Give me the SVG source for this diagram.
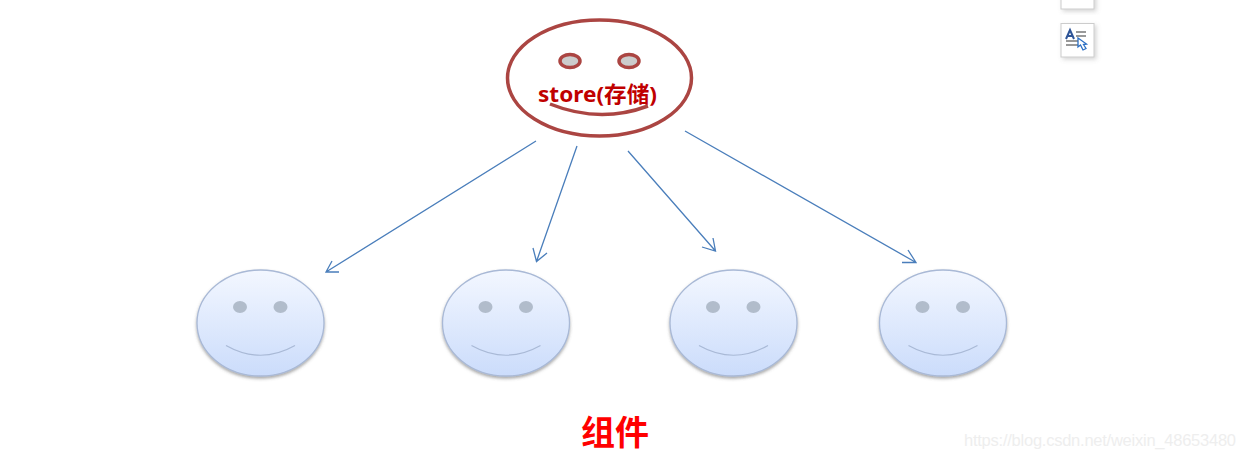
<svg xmlns="http://www.w3.org/2000/svg" width="1245" height="458" viewBox="0 0 1245 458">
<style>
.c{fill:none;stroke:#4a7ebb;stroke-width:1.3}
.f{fill:url(#g);stroke:#a9b9d6;stroke-width:1.3;filter:url(#s)}
.e{fill:#b1bccb}
.m{fill:none;stroke:#a9b9d6;stroke-width:1.2}
.r{stroke:#ab4542;stroke-width:3.5}
.t{font-family:"Noto Sans","Noto Sans CJK SC",sans-serif;font-weight:700}
</style>
<defs>
<linearGradient id="g" x1="0" y1="0" x2="0" y2="1"><stop offset="0" stop-color="#f3f7ff"/><stop offset="1" stop-color="#cbdcfb"/></linearGradient>
<filter id="s" x="-10%" y="-10%" width="120%" height="125%"><feDropShadow dx="0" dy="2" stdDeviation="1.5" flood-color="#555" flood-opacity=".5"/></filter>
<filter id="b" x="-20%" y="-20%" width="150%" height="150%"><feDropShadow dx="2" dy="2" stdDeviation="2" flood-color="#777" flood-opacity=".3"/></filter>
<g id="face"><ellipse class="f" cx="0" cy="0" rx="63.500" ry="53"/><ellipse class="e" cx="-20.500" cy="-16" rx="7" ry="6"/><ellipse class="e" cx="20" cy="-16" rx="7" ry="6"/><path class="m" d="M-34.500 22.500Q0 42 34.500 22.500"/></g>
</defs>
<rect width="1245" height="458" fill="#fff"/>
<g id="toolbar">
<rect x="1061" y="-10" width="33" height="19" fill="#fff" stroke="#ccc" filter="url(#b)"/>
<rect x="1061" y="23.500" width="33" height="33.500" fill="#fff" stroke="#ccc" filter="url(#b)"/>
<path d="M1066 39L1070 30L1074 39M1067.500 36H1072.500" fill="none" stroke="#2f5597" stroke-width="2"/>
<path d="M1076 32H1086M1076 36H1086M1066 41H1080M1066 45H1080" stroke="#999" stroke-width="2"/>
<path d="M1078 38L1078 47L1080.500 45L1083 50L1086 48.500L1083.500 44.500L1086.500 44Z" fill="#fff" stroke="#2b6fc4" stroke-width="1.300"/>
</g>
<g id="store">
<ellipse class="r" cx="599.500" cy="78" rx="92" ry="58" fill="#fff"/>
<ellipse class="r" cx="570" cy="61" rx="10" ry="6.500" fill="#ccc"/>
<ellipse class="r" cx="629" cy="61" rx="10" ry="6.500" fill="#ccc"/>
<path d="M550 104Q600 124 648 106" fill="none" stroke="#ab4542" stroke-width="3.500"/>
<text class="t" x="538" y="102" font-size="22" fill="#c00000" textLength="119" lengthAdjust="spacingAndGlyphs">store(存储)</text>
</g>
<g id="connectors">
<path class="c" d="M536 141L326 272M339 272L326 272L332 261"/>
<path class="c" d="M577 146L536.500 261.500M533 248L536.500 261.500L547 253"/>
<path class="c" d="M628 151L715.500 251M702 247L715.500 251L713 238"/>
<path class="c" d="M685 131L916 262.500M902 262.500L916 262.500L908 250"/>
</g>
<use id="c1" href="#face" x="260.500" y="323"/>
<use id="c2" href="#face" x="506" y="323"/>
<use id="c3" href="#face" x="733.500" y="323"/>
<use id="c4" href="#face" x="943" y="323"/>
<text class="t" x="581" y="445" font-size="34" fill="#ff0000">组件</text>
<text x="964" y="446" font-family="Liberation Sans,sans-serif" font-size="16.500" fill="#eeeeee" textLength="272">https://blog.csdn.net/weixin_48653480</text>
</svg>
